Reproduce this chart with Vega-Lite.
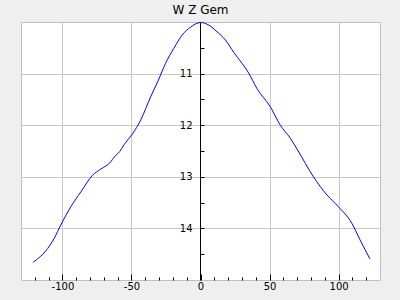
{
  "$schema": "https://vega.github.io/schema/vega-lite/v6.json",
  "width": 359,
  "height": 258,
  "autosize": {"type": "none"},
  "padding": {"left": 21, "top": 22, "right": 20, "bottom": 20},
  "background": "#efefef",
  "title": {"text": "W Z Gem", "font": "DejaVu Sans", "fontSize": 12, "fontWeight": "normal", "color": "#000000", "offset": 4},
  "config": {"view": {"fill": "white", "stroke": "#c0c0c0"}},
  "data": {"values": [
    {"phase": -121.4, "mag": 14.66},
    {"phase": -110.7, "mag": 14.39},
    {"phase": -105.9, "mag": 14.19},
    {"phase": -101.1, "mag": 13.93},
    {"phase": -93.9, "mag": 13.58},
    {"phase": -86.6, "mag": 13.29},
    {"phase": -78.2, "mag": 12.97},
    {"phase": -72.2, "mag": 12.85},
    {"phase": -65.0, "mag": 12.71},
    {"phase": -62.6, "mag": 12.62},
    {"phase": -58.5, "mag": 12.51},
    {"phase": -55.4, "mag": 12.38},
    {"phase": -49.3, "mag": 12.17},
    {"phase": -43.3, "mag": 11.90},
    {"phase": -36.1, "mag": 11.45},
    {"phase": -30.7, "mag": 11.14},
    {"phase": -25.3, "mag": 10.80},
    {"phase": -19.3, "mag": 10.51},
    {"phase": -13.2, "mag": 10.25},
    {"phase": -7.2, "mag": 10.10},
    {"phase": 0.0, "mag": 10.01},
    {"phase": 6.0, "mag": 10.06},
    {"phase": 12.0, "mag": 10.19},
    {"phase": 18.1, "mag": 10.35},
    {"phase": 24.1, "mag": 10.59},
    {"phase": 30.1, "mag": 10.80},
    {"phase": 34.9, "mag": 10.99},
    {"phase": 40.9, "mag": 11.29},
    {"phase": 50.5, "mag": 11.64},
    {"phase": 57.8, "mag": 12.00},
    {"phase": 65.0, "mag": 12.25},
    {"phase": 70.3, "mag": 12.48},
    {"phase": 81.8, "mag": 13.00},
    {"phase": 91.5, "mag": 13.35},
    {"phase": 99.9, "mag": 13.58},
    {"phase": 109.6, "mag": 13.90},
    {"phase": 115.5, "mag": 14.22},
    {"phase": 122.7, "mag": 14.59}
  ]},
  "mark": {"type": "line", "color": "#0000ff", "strokeWidth": 1, "interpolate": "monotone"},
  "encoding": {
    "x": {
      "field": "phase", "type": "quantitative",
      "scale": {"domain": [-130, 130], "nice": false, "zero": false},
      "axis": {
        "title": null,
        "values": [-120, -110, -100, -90, -80, -70, -60, -50, -40, -30, -20, -10, 0, 10, 20, 30, 40, 50, 60, 70, 80, 90, 100, 110, 120],
        "labelExpr": "datum.value % 50 === 0 ? '' + datum.value : ''",
        "tickSize": {"condition": {"test": "datum.value % 50 === 0", "value": -6}, "value": -3},
        "tickColor": "#000000",
        "domain": false,
        "gridColor": "#c8c8c8",
        "gridOpacity": {"condition": {"test": "datum.value % 50 === 0 && datum.value !== 0", "value": 1}, "value": 0},
        "labelFont": "DejaVu Sans",
        "labelFontSize": 10,
        "labelColor": "#000000",
        "labelPadding": 7,
        "labelFlush": false,
        "labelOverlap": false
      }
    },
    "y": {
      "field": "mag", "type": "quantitative",
      "scale": {"domain": [10, 15], "reverse": true, "nice": false, "zero": false},
      "axis": {
        "title": null,
        "orient": "left",
        "offset": -179,
        "values": [10.5, 11, 11.5, 12, 12.5, 13, 13.5, 14, 14.5],
        "labelExpr": "datum.value % 1 === 0 ? '' + datum.value : ''",
        "tickSize": -4,
        "tickColor": "#000000",
        "domainColor": "#000000",
        "gridColor": "#c8c8c8",
        "gridOpacity": {"condition": {"test": "datum.value % 1 === 0", "value": 1}, "value": 0},
        "labelFont": "DejaVu Sans",
        "labelFontSize": 10,
        "labelColor": "#000000",
        "labelPadding": 12,
        "labelFlush": false,
        "labelOverlap": false
      }
    }
  }
}
